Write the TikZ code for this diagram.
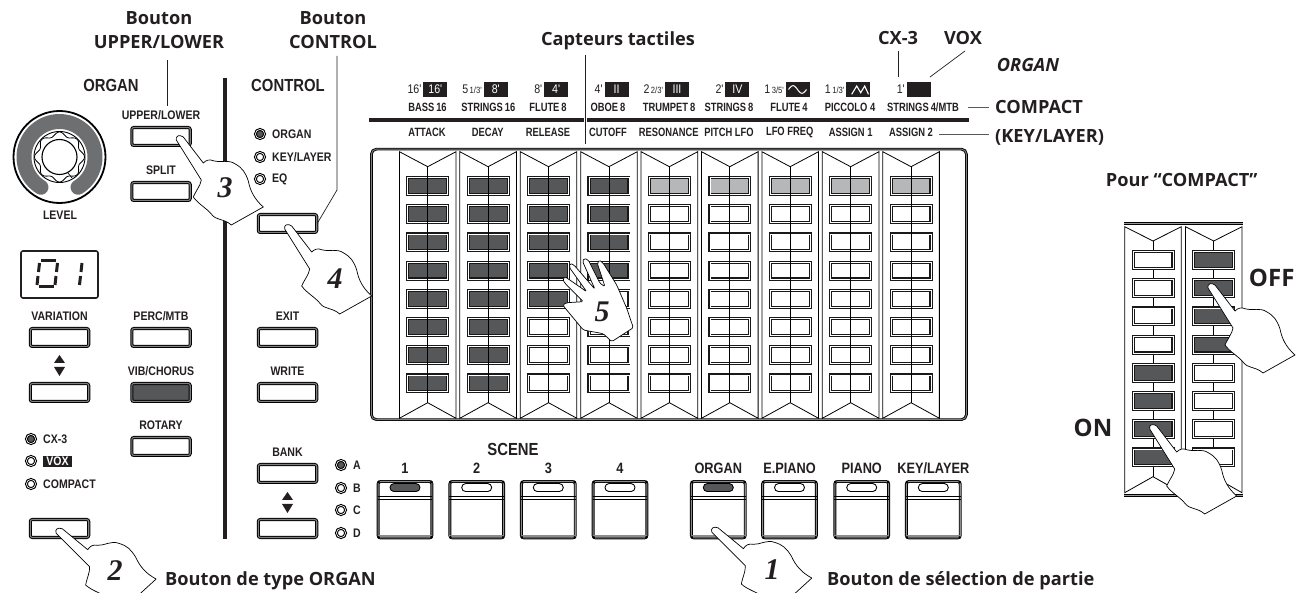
\documentclass[tikz,border=0pt]{standalone}
\usepackage{fontspec}
\newfontfamily\titlefont{Open Sans}
\newfontfamily\panelfont[FakeStretch=0.85]{Liberation Sans}
\newfontfamily\rowfont[FakeStretch=0.78]{Liberation Sans}
\newfontfamily\numfont{Liberation Serif}
\definecolor{inkblack}{HTML}{231F20}
\definecolor{keydark}{HTML}{555759}
\definecolor{keylight}{HTML}{B5B7B9}
\definecolor{ringgray}{HTML}{6D6F71}
\tikzset{
  bigtext/.style={font=\titlefont\bfseries\fontsize{18.2}{24}\selectfont,text=inkblack,align=center,inner sep=0pt},
  hugetext/.style={font=\titlefont\bfseries\fontsize{24}{24}\selectfont,text=inkblack,inner sep=0pt},
  headtext/.style={font=\panelfont\bfseries\fontsize{17.5}{17.5}\selectfont,text=inkblack,inner sep=0pt},
  padtext/.style={font=\panelfont\bfseries\fontsize{15}{15}\selectfont,text=inkblack,inner sep=0pt},
  paneltext/.style={font=\panelfont\bfseries\fontsize{12.4}{12.4}\selectfont,text=inkblack,inner sep=0pt},
  rowtext/.style={font=\rowfont\bfseries\fontsize{12}{12}\selectfont,text=inkblack,inner sep=0pt},
  foottext/.style={font=\panelfont\fontsize{12.5}{12.5}\selectfont,text=inkblack,inner sep=0pt},
  regbox/.style={fill=inkblack,text=white,font=\panelfont\fontsize{12.5}{12.5}\selectfont,minimum width=24pt,minimum height=15pt,inner sep=0pt},
  handnum/.style={font=\numfont\bfseries\itshape\fontsize{30}{30}\selectfont,text=inkblack,inner sep=0pt},
  panelbtn/.style={draw=black,double=black!50,double distance=1.1pt,line width=1pt,rounded corners=2pt,fill=white,minimum width=58.4pt,minimum height=17.9pt,inner sep=0pt},
  keycell/.style={draw=black!90,double=white,double distance=.7pt,line width=1.2pt,fill=white,minimum width=39.9pt,minimum height=16.9pt,inner sep=0pt},
  padbox/.style={draw=black,double=black!45,double distance=1.1pt,line width=.9pt,rounded corners=2.5pt,fill=white,minimum width=53.8pt,minimum height=56.4pt,inner sep=0pt},
  pill/.style={draw=black,line width=.9pt,rounded corners=4pt,minimum width=30pt,minimum height=8pt,inner sep=0pt},
  led/.style={circle,draw=black,double=white,double distance=.6pt,line width=1.1pt,fill=white,minimum size=9.2pt,inner sep=0pt},
  leader/.style={draw=inkblack,line width=.7pt},
  greyleader/.style={draw=black!65,line width=1pt},
  thinline/.style={draw=black,line width=.8pt},
  handline/.style={draw=black,line width=.7pt,fill=white,line join=round},
  pics/hand/.style={code={
    \draw[handline] (-2,4) .. controls (-3,0) and (1,-2) .. (5,1) -- (25,27)
      .. controls (28,24) and (31,23) .. (36,25) .. controls (42,27) and (50,23) .. (57,28)
      .. controls (64,32) and (67,36) .. (70,45) .. controls (72,55) and (76,63) .. (85,71)
      -- (53,89) .. controls (45,82) and (38,85) .. (33,78) .. controls (28,72) and (20,68) .. (15,61)
      .. controls (18,54) and (22,50) .. (23,44) -- cycle;
  }},
}
\newcommand{\updown}[2]{%
  \fill[inkblack] (#1,#2) -- (#1+5.5,#2+8) -- (#1-5.5,#2+8) -- cycle;
  \fill[inkblack] (#1,#2+21) -- (#1+5.5,#2+12) -- (#1-5.5,#2+12) -- cycle;
}
\newcommand{\scenepad}[4]{%
  \node[padbox] (#1) at (#2,509.7) {};
  \draw[thinline] ([yshift=-15.5pt]#1.north west) -- ([yshift=-15.5pt]#1.north east);
  \draw[thinline] ([yshift=-18pt]#1.north west) -- ([yshift=-18pt]#1.north east);
  \draw[draw=black!45,line width=1.8pt] ([yshift=2.5pt]#1.south west) -- ([yshift=2.5pt]#1.south east);
  \foreach \corner/\sx/\sy in {north west/1/-1,north east/-1/-1,south west/1/1,south east/-1/1}
    \fill[black] ([shift={(\sx*1pt,\sy*1pt)}]#1.\corner) circle[radius=1.5pt];
  \node[pill,fill=#4] (#1led) at ([yshift=-6.5pt]#1.north) {};
  \node[padtext] (#1label) at (#2,468) {#3};
}
\begin{document}
\begin{tikzpicture}[x=1pt,y=-1pt]
\useasboundingbox (0,0) rectangle (1302,593);
\clip (0,0) rectangle (1302,593);
% titres
\node[bigtext] (titleupper) at (159,30) {Bouton\\UPPER/LOWER};
\node[bigtext] (titlecontrol) at (333,30) {Bouton\\CONTROL};
\node[bigtext] (titlesensor) at (618,41) {Capteurs tactiles};
\node[bigtext] (titlecx) at (898,38) {CX-3};
\node[bigtext] (titlevox) at (963,38) {VOX};
\node[bigtext,font=\titlefont\bfseries\itshape\fontsize{18.2}{24}\selectfont] (titleorgan) at (1028,65) {ORGAN};
\node[bigtext,anchor=west] (titlecompact) at (995,107) {COMPACT};
\node[bigtext,anchor=west] (titlekey) at (995,137) {(KEY/LAYER)};
\node[bigtext] (titlepour) at (1181.7,180) {Pour “COMPACT”};
\node[bigtext,anchor=west] (titletype) at (165,581) {Bouton de type ORGAN};
\node[bigtext,anchor=west] (titlepart) at (827,581) {Bouton de sélection de partie};
\node[hugetext] (titleoff) at (1271.7,278) {OFF};
\node[hugetext] (titleon) at (1093,427.7) {ON};
% section ORGAN
\node[headtext] (headorgan) at (111,85) {ORGAN};
\node[headtext] (headcontrol) at (288,85) {CONTROL};
\draw[draw=inkblack,line width=3.6pt] (225,78) -- (225,539);
\foreach \name/\x/\y/\txt in {upper/161/136.5/UPPER\slash LOWER,split/161/191.5/SPLIT,perc/161/337.5/PERC\slash MTB,rotary/161/446.5/ROTARY,vari/59.5/337.5/VARIATION,exit/287.5/337.5/EXIT,write/287.5/392.5/WRITE,bank/287.5/473.5/BANK}{
  \node[panelbtn] (btn\name) at (\x,\y) {};
  \node[paneltext] (lbl\name) at (\x,\y-21.5) {\txt};
}
\node[panelbtn,fill=keydark] (btnvib) at (161,392.5) {};
\node[paneltext] (lblvib) at (161,371) {VIB\slash CHORUS};
\node[panelbtn] (btnvaridown) at (59.5,392.5) {};
\node[panelbtn] (btntype) at (59.5,528.5) {};
\node[panelbtn] (btncontrol) at (287.5,223.5) {};
\node[panelbtn] (btnbankdown) at (287.5,528.5) {};
\updown{59.5}{355}
\updown{287.5}{492}
% bouton LEVEL
\draw[draw=black,line width=1.8pt] (59.5,157) circle[radius=46pt];
\draw[draw=ringgray,line width=15pt,line cap=round] plot[domain=121.5:418.5,samples=60] ({59.5+35.5*cos(\x)},{157+35.5*sin(\x)});
\draw[draw=black,line width=.9pt] plot[domain=0:360,samples=97,smooth] ({59.5+25.5*cos(\x)},{157+25.5*sin(\x)}) -- cycle;
\draw[draw=black,line width=.8pt,fill=white] plot[domain=0:360,samples=121,smooth] ({59.5+(23+2*cos(8*\x))*cos(\x)},{157+(23+2*cos(8*\x))*sin(\x)}) -- cycle;
\draw[draw=black,line width=1.1pt] (59.5,157) circle[radius=17.5pt];
\draw[draw=black,line width=.7pt] (68,173) -- (72,178);
\node[paneltext] (lbllevel) at (60,215) {LEVEL};
% afficheur
\draw[draw=inkblack,line width=1.6pt,rounded corners=2pt] (21,251) rectangle (98,298);
\foreach \a/\b/\c/\d in {41/261/56/261,39.5/263/38.5/272,57.5/263/56.5/272,38/276/37/285,56/276/55/285,39/287/54/287,82/263/81/272,80.5/276/79.5/285}
  \draw[draw=inkblack,line width=3pt] (\a,\b) -- (\c,\d);
% voyants
\foreach \name/\x/\y/\txt/\on in {cx/31/439/CX-3/1,compact/31/484/COMPACT/0,vox/31/461//0,oorgan/260/134/ORGAN/1,okey/260/157/KEY\slash LAYER/0,oeq/260/179/EQ/0,ba/341/465/A/1,bb/341/488/B/0,bc/341/510/C/0,bd/341/533/D/0}{
  \ifnum\on=1
    \node[led,fill=keydark] (led\name) at (\x,\y) {};
  \else
    \node[led] (led\name) at (\x,\y) {};
  \fi
  \node[paneltext,anchor=west] (txt\name) at (\x+12,\y) {\txt};
}
\node[fill=inkblack,text=white,font=\panelfont\bfseries\fontsize{12.4}{12.4}\selectfont,minimum width=29pt,minimum height=11pt,inner sep=0pt] (boxvox) at (57.5,461.5) {VOX};
% registres
\foreach \col/\foot/\reg in {0/{16'}/{16'},1/{5{\fontsize{9}{9}\selectfont\,1/3'}}/{8'},2/{8'}/{4'},3/{4'}/{II},4/{2{\fontsize{9}{9}\selectfont\,2/3'}}/{III},5/{2'}/{IV},6/{1{\fontsize{9}{9}\selectfont\,3/5'}}/{},7/{1{\fontsize{9}{9}\selectfont\,1/3'}}/{},8/{1'}/{}}{
  \pgfmathsetmacro\bx{435.3+60.42*\col}
  \node[regbox] (reg\col) at (\bx,89.5) {\reg};
  \node[foottext,anchor=east] (foot\col) at ([xshift=-1.5pt]reg\col.west) {\foot};
}
\draw[draw=white,line width=1pt] plot[domain=0:360,samples=30] ({788.5+18*\x/360},{89.5-3.8*sin(\x)});
\draw[draw=white,line width=1.1pt] (851.7,94.3) -- (856.7,86) -- (860.7,92.7) -- (864.7,86) -- (868.5,94.3);
\foreach \x/\txt in {427.5/BASS\,16,488.3/STRINGS\,16,548/FLUTE\,8,608/OBOE\,8,669/TRUMPET\,8,729/STRINGS\,8,789/FLUTE\,4,850/PICCOLO 4,923/STRINGS\,4\slash MTB}
  \node[rowtext] (up\x) at (\x,107.5) {\txt};
\foreach \x/\txt in {427/ATTACK,487.7/DECAY,548/RELEASE,608/CUTOFF,668.7/RESONANCE,729/PITCH LFO,789.7/LFO FREQ,850.7/ASSIGN 1,911/ASSIGN 2}
  \node[rowtext] (low\x) at (\x,132.5) {\txt};
\draw[draw=inkblack,line width=3.7pt] (369,120) -- (583.5,120);
\draw[draw=inkblack,line width=3.7pt] (587,120) -- (969,120);
% capteurs
\node[draw=black,double=black!50,double distance=.9pt,line width=.9pt,rounded corners=5pt,minimum width=595pt,minimum height=270.5pt,inner sep=0pt] (sensorpanel) at (668.9,284.4) {};
\foreach \col/\ndark in {0/8,1/8,2/5,3/4,4/0,5/0,6/0,7/0,8/0}{
  \pgfmathsetmacro\cx{427.7+60.42*\col}
  \draw[thinline] ({\cx-28.3},418.3) -- ({\cx-28.3},151.7) -- (\cx,166.7) -- ({\cx+28.3},151.7) -- ({\cx+28.3},418.3) -- (\cx,402.7) -- cycle;
  \foreach \row in {0,...,7}{
    \pgfmathsetmacro\cy{186+28.2*\row}
    \def\keyfill{white}
    \ifnum\row<\ndark \def\keyfill{keydark}\fi
    \ifnum\ndark=0 \ifnum\row=0 \def\keyfill{keylight}\fi\fi
    \node[keycell,fill=\keyfill] (key\col-\row) at (\cx,\cy) {};
  }
  \draw[thinline] (\cx,166.7) -- (\cx,402.7);
}
% pour COMPACT
\foreach \col/\cx/\first/\last in {0/1153/4/7,1/1213.7/0/3}{
  \draw[thinline] ({\cx-28.3},492.7) -- ({\cx-28.3},226.7) -- (\cx,241) -- ({\cx+28.3},226.7) -- ({\cx+28.3},492.7) -- (\cx,476.7) -- cycle;
  \draw[thinline] (\cx,241) -- (\cx,476.7);
  \foreach \row in {0,...,7}{
    \pgfmathsetmacro\cy{260+28.2*\row}
    \def\keyfill{white}
    \ifnum\row<\first \else \ifnum\row>\last \else \def\keyfill{keydark}\fi\fi
    \node[keycell,fill=\keyfill] (cell\col-\row) at (\cx,\cy) {};
  }
}
\foreach \y in {223.3,495.5}
  \draw[draw=black,double=black!40,double distance=1.1pt,line width=.8pt] (1124,\y) -- (1243.3,\y);
% pads
\scenepad{padone}{405}{1}{keydark}
\scenepad{padtwo}{476.7}{2}{white}
\scenepad{padthree}{548.3}{3}{white}
\scenepad{padfour}{620}{4}{white}
\scenepad{padorgan}{718.3}{ORGAN}{keydark}
\scenepad{padepiano}{789.5}{E.PIANO}{white}
\scenepad{padpiano}{861.7}{PIANO}{white}
\scenepad{padkey}{933.3}{KEY\slash LAYER}{white}
\node[headtext] (lblscene) at (513,449) {SCENE};
% lignes de rappel
\coordinate (ua) at (167,60);
\coordinate (ub) at (167,106);
\draw[leader] (ua) -- (ub);
\coordinate (ca) at (337,56);
\coordinate (cb) at (337,190);
\draw[leader] (ca) -- (cb) -- (btncontrol.east);
\coordinate (sa) at (585,55);
\coordinate (sb) at (585,144);
\draw[leader] (sa) -- (sb);
\coordinate (xa) at (898,51);
\coordinate (xb) at (898,77);
\draw[leader] (xa) -- (xb);
\coordinate (va) at (965,51);
\coordinate (vb) at (930,77);
\draw[leader] (va) -- (vb);
\coordinate (pa) at (968,108);
\coordinate (pb) at (989,108);
\draw[greyleader] (pa) -- (pb);
\coordinate (ka) at (939,135);
\coordinate (kb) at (989,135);
\draw[greyleader] (ka) -- (kb);
% mains
\pic (handthree) at (178.3,136) {hand};
\node[handnum] (numthree) at (225,188) {3};
\pic (handfour) at (286.7,225) {hand};
\node[handnum] (numfour) at (335,279) {4};
\pic[rotate=13] (handtwo) at (57.3,529) {hand};
\node[handnum] (numtwo) at (115,571) {2};
\pic[rotate=13] (handone) at (713,528) {hand};
\node[handnum] (numone) at (772,570) {1};
\pic (handoff) at (1210,284) {hand};
\pic (handon) at (1151.7,425) {hand};
% main ouverte
\draw[handline,rounded corners=1.5pt] (633.3,327.7) -- (626.7,308.3) -- (616.7,285) -- (603.3,263.3) -- (599.3,260) -- (597.3,263.3) -- (605,286.7) -- (600,283.3) -- (588.3,260) -- (584,258.3) -- (582.7,261.7) -- (595,289.3) -- (574,265) -- (570,263.3) -- (569.3,267.3) -- (586.7,291.7) -- (565,276.7) -- (562.7,279.3) -- (565,283.3) -- (583.3,301.7) -- (566.7,302.7) -- (562.7,305) -- (566.7,310) -- (583.3,330) -- (603.3,333.7) -- (611.7,341.7) -- cycle;
\node[handnum] (numfive) at (602,312) {5};
\end{tikzpicture}
\end{document}
